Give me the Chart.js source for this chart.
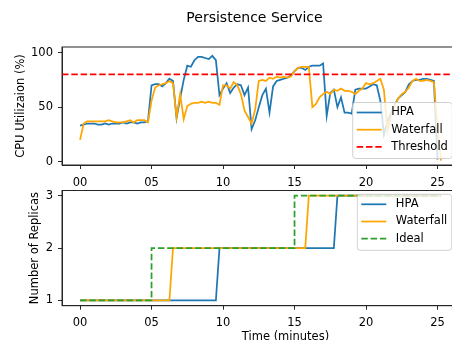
<!DOCTYPE html>
<html>
<head>
<meta charset="utf-8">
<script src="https://cdn.jsdelivr.net/npm/chart.js@4.4.0/dist/chart.umd.min.js"></script>
<style>
  html, body { margin: 0; padding: 0; background: #fff; overflow: hidden; width: 452px; height: 340px; }
  #top { position: absolute; left: 0; top: 0; width: 509px; height: 190px; }
  #bottom { position: absolute; left: 0; top: 180px; width: 509px; height: 170px; }
</style>
</head>
<body>
<div id="top"><canvas id="cpuChart"></canvas></div>
<div id="bottom"><canvas id="replicaChart"></canvas></div>
<script>
  // sample times (minutes)
  var minutes = [0, 0.25, 0.5, 0.75, 1, 1.25, 1.5, 1.75, 2, 2.25, 2.5, 2.75, 3, 3.25, 3.5, 3.75,
    4, 4.25, 4.5, 4.75, 5, 5.25, 5.5, 5.75, 6, 6.25, 6.5, 6.75, 7, 7.25, 7.5, 7.75,
    8, 8.25, 8.5, 8.75, 9, 9.25, 9.5, 9.75, 10, 10.25, 10.5, 10.75, 11, 11.25, 11.5, 11.75,
    12, 12.25, 12.5, 12.75, 13, 13.25, 13.5, 13.75, 14, 14.25, 14.5, 14.75, 15, 15.25, 15.5, 15.75,
    16, 16.25, 16.5, 16.75, 17, 17.25, 17.5, 17.75, 18, 18.25, 18.5, 18.75, 19, 19.25, 19.5, 19.75,
    20, 20.25, 20.5, 20.75, 21, 21.25, 21.5, 21.75, 22, 22.25, 22.5, 22.75, 23, 23.25, 23.5, 23.75,
    24, 24.25, 24.5, 24.75, 25, 25.25];

  var hpaCpu = [33, 34, 35, 35, 35, 34, 34, 35, 34, 35, 35, 35, 36, 35, 36, 36,
    35, 36, 36, 37, 70, 71, 71, 69, 72, 76, 74, 40, 58, 75, 88, 87,
    93, 96, 96, 95, 94, 97, 93, 61, 67, 72, 63, 68, 71, 70, 61, 68,
    30, 38, 50, 61, 67, 45, 69, 74, 75, 76, 77, 79, 83, 86, 86, 84,
    87, 88, 88, 88, 90, 42, 63, 66, 50, 59, 45, 45, 44, 66, 67, 67,
    67, 69, 71, 70, 56, 25, 37, 44, 52, 58, 61, 64, 71, 74, 75, 75,
    76, 76, 75, 74, 2];

  var waterfallCpu = [20, 35, 37, 37, 37, 37, 37, 37, 38, 37, 36, 36, 36, 37, 38, 36,
    38, 38, 38, 36, 56, 68, 70, 71, 72, 74, 72, 41, 62, 39, 51, 53,
    54, 54, 55, 54, 55, 54, 54, 52, 70, 70, 67, 73, 70, 62, 47, 41,
    35, 48, 74, 75, 74, 77, 76, 78, 77, 78, 77, 78, 83, 86, 87, 87,
    87, 50, 53, 59, 62, 64, 62, 66, 65, 67, 65, 65, 64, 62, 65, 67,
    72, 71, 72, 74, 76, 66, 28, 42, 52, 58, 62, 64, 68, 74, 76, 74,
    74, 75, 74, 73, 30, 1];

  var threshold = 80;

  var hpaReplicaTimes = [0, 9.5, 9.75, 17.75, 18, 25.25];
  var hpaReplicas = [1, 1, 2, 2, 3, 3];
  var waterfallReplicaTimes = [0, 6.25, 6.5, 15.75, 16, 25.25];
  var waterfallReplicas = [1, 1, 2, 2, 3, 3];
  var idealReplicaTimes = [0, 5, 5, 15, 15, 25.25];
  var idealReplicas = [1, 1, 2, 2, 3, 3];

  var xTickValues = [0, 5, 10, 15, 20, 25];
  var xTickLabels = ['00', '05', '10', '15', '20', '25'];
  var cpuTicks = [0, 50, 100];
  var replicaTicks = [1, 2, 3];

  var xMin = -1.2625, xMax = 30;

  function points(xs, ys) {
    return ys.map(function (y, i) { return { x: xs[i], y: y }; });
  }

  Chart.defaults.font.family = '"DejaVu Sans"';
  Chart.defaults.font.size = 11.5;
  Chart.defaults.color = '#000';

  var dash = [6.5, 2.8];
  var lw = 1.75;

  // matplotlib-like frame around the plot area
  var framePlugin = {
    id: 'frame',
    afterDatasetsDraw: function (chart) {
      var a = chart.chartArea, ctx = chart.ctx;
      ctx.save();
      ctx.strokeStyle = '#262626';
      ctx.lineWidth = 1;
      ctx.strokeRect(a.left, a.top, a.right - a.left, a.bottom - a.top);
      ctx.restore();
    }
  };

  // legend box drawn over the lines
  var boxLegend = {
    id: 'boxLegend',
    afterDatasetsDraw: function (chart, args, opts) {
      var ctx = chart.ctx;
      var sets = chart.data.datasets;
      ctx.save();
      ctx.font = '11.5px "DejaVu Sans"';
      var textW = 0;
      sets.forEach(function (ds) { textW = Math.max(textW, ctx.measureText(ds.label).width); });
      var w = 38.5 + textW + 4.5;
      var h = 56;
      ctx.beginPath();
      ctx.roundRect(opts.x, opts.y, w, h, 3);
      ctx.fillStyle = 'rgba(255,255,255,0.8)';
      ctx.fill();
      ctx.strokeStyle = 'rgba(204,204,204,0.9)';
      ctx.lineWidth = 1;
      ctx.stroke();
      sets.forEach(function (ds, i) {
        var y = opts.y + 10 + i * 17.2;
        ctx.beginPath();
        ctx.setLineDash(ds.borderDash || []);
        ctx.strokeStyle = ds.borderColor;
        ctx.lineWidth = ds.borderWidth;
        ctx.moveTo(opts.x + 4, y);
        ctx.lineTo(opts.x + 29, y);
        ctx.stroke();
        ctx.setLineDash([]);
        ctx.fillStyle = '#000';
        ctx.textBaseline = 'middle';
        ctx.fillText(ds.label, opts.x + 38.5, y);
      });
      ctx.restore();
    }
  };

  function xScale(withTitle) {
    return {
      type: 'linear',
      min: xMin,
      max: xMax,
      afterBuildTicks: function (s) { s.ticks = xTickValues.map(function (v) { return { value: v }; }); },
      afterFit: function (s) { s.height = withTitle ? 40 : 25; s.paddingLeft = 0; s.paddingRight = 0; },
      ticks: {
        padding: withTitle ? 6 : 7,
        maxRotation: 0,
        callback: function (v) { return xTickLabels[xTickValues.indexOf(v)]; }
      },
      grid: { drawOnChartArea: false, tickLength: 4, tickColor: '#262626' },
      border: { color: '#262626' },
      title: { display: withTitle, text: 'Time (minutes)', padding: { top: 0, bottom: 1.8 } }
    };
  }

  function yScale(min, max, tickVals, label, titlePad) {
    return {
      min: min,
      max: max,
      afterBuildTicks: function (s) { s.ticks = tickVals.map(function (v) { return { value: v }; }); },
      afterFit: function (s) { s.width = 62; s.paddingTop = 0; s.paddingBottom = 0; },
      ticks: { padding: 5 },
      grid: { drawOnChartArea: false, tickLength: 4, tickColor: '#262626' },
      border: { color: '#262626' },
      title: { display: true, text: label, padding: { top: titlePad, bottom: 0 } }
    };
  }

  var cpuChart = new Chart(document.getElementById('cpuChart'), {
    type: 'line',
    data: {
      datasets: [{
        label: 'HPA',
        data: points(minutes, hpaCpu),
        borderColor: '#1f77b4',
        borderWidth: lw,
        order: 2
      }, {
        label: 'Waterfall',
        data: points(minutes, waterfallCpu),
        borderColor: '#ffa500',
        borderWidth: lw,
        order: 1
      }, {
        label: 'Threshold',
        data: [{ x: xMin, y: threshold }, { x: xMax, y: threshold }],
        borderColor: '#ff0000',
        borderWidth: lw,
        borderDash: dash,
        order: 0
      }]
    },
    options: {
      responsive: true,
      maintainAspectRatio: false,
      animation: false,
      layout: { padding: { top: 0, right: 0, bottom: 0, left: 0 } },
      elements: { point: { radius: 0 }, line: { tension: 0, fill: false } },
      scales: {
        x: xScale(false),
        y: yScale(-3, 105.1, cpuTicks, 'CPU Utilizaion (%)', 14)
      },
      plugins: {
        legend: { display: false },
        tooltip: { enabled: false },
        title: {
          display: true,
          text: 'Persistence Service',
          font: { size: 14, weight: 'normal' },
          color: '#000',
          padding: { top: 10, bottom: 20.2 }
        },
        boxLegend: { x: 352.7, y: 102.5 }
      }
    },
    plugins: [framePlugin, boxLegend]
  });

  var replicaChart = new Chart(document.getElementById('replicaChart'), {
    type: 'line',
    data: {
      datasets: [{
        label: 'HPA',
        data: points(hpaReplicaTimes, hpaReplicas),
        borderColor: '#1f77b4',
        borderWidth: lw,
        order: 2
      }, {
        label: 'Waterfall',
        data: points(waterfallReplicaTimes, waterfallReplicas),
        borderColor: '#ffa500',
        borderWidth: lw,
        order: 1
      }, {
        label: 'Ideal',
        data: points(idealReplicaTimes, idealReplicas),
        borderColor: '#2ca02c',
        borderWidth: lw,
        borderDash: dash,
        order: 0
      }]
    },
    options: {
      responsive: true,
      maintainAspectRatio: false,
      animation: false,
      layout: { padding: { top: 10.5, right: 0, bottom: 4.3, left: 0 } },
      elements: { point: { radius: 0 }, line: { tension: 0, fill: false } },
      scales: {
        x: xScale(true),
        y: yScale(0.9, 3.1, replicaTicks, 'Number of Replicas', 28)
      },
      plugins: {
        legend: { display: false },
        tooltip: { enabled: false },
        boxLegend: { x: 357.3, y: 14.3 }
      }
    },
    plugins: [framePlugin, boxLegend]
  });
</script>
</body>
</html>
